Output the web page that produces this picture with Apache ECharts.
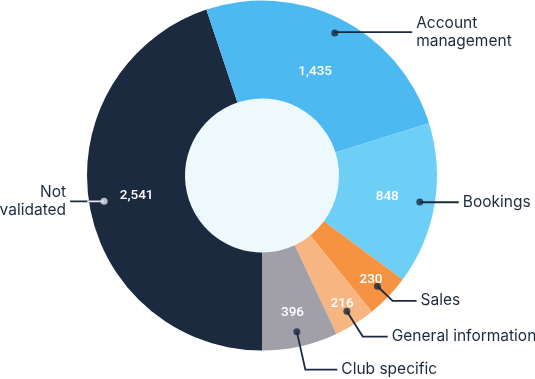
<!DOCTYPE html>
<html>
<head>
<meta charset="utf-8">
<script src="https://cdn.jsdelivr.net/npm/echarts@6/dist/echarts.min.js"></script>
<style>
html,body{margin:0;padding:0;background:#ffffff;}
#chart{width:535px;height:379px;}
</style>
</head>
<body>
<div id="chart"></div>
<script>
// ---- data ----
const categories = ['Not validated', 'Account management', 'Bookings', 'Sales', 'General information', 'Club specific'];
const labelTexts = ['Not\nvalidated', 'Account\nmanagement', 'Bookings', 'Sales', 'General information', 'Club specific'];
const values = [2541, 1435, 848, 230, 216, 396];
const colors = ['#1c2a40', '#4cb9f1', '#6dcff6', '#f59342', '#f7b582', '#a19fa8'];

// ---- style / layout constants ----
const CX = 262, CY = 175.5, R_OUT = 175, R_IN = 77;
const FONT = 'Inter, Roboto, sans-serif';
const TEXT_DARK = '#1c2a40';
// radius where each leader line starts (dot position)
const dotRadius = [160, 160, 160, 160, 160, 160];
// leader line lengths per item [radial, horizontal]
const lineLen = [[1, 33], [1, 77], [1, 38], [21, 24], [30, 25], [39, 32]];
// desired value-label radius per item
const valueRing = [127, 117, 127, 151, 151, 140];

const total = values.reduce((a, b) => a + b, 0);
const fmt = v => v.toLocaleString('en-US');
const center = [CX, CY];

function baseData(extra) {
  return values.map((v, i) => Object.assign({ name: categories[i], value: v }, extra ? extra(i) : {}));
}

const series = [];

// inner light disk
series.push({
  type: 'pie', center, radius: [0, R_IN], silent: true, startAngle: 270,
  label: { show: false }, labelLine: { show: false },
  data: [{ value: 1, itemStyle: { color: '#eef9fe' } }]
});

// main donut
series.push({
  type: 'pie', center, radius: [R_IN, R_OUT], startAngle: 270, clockwise: true,
  silent: true, avoidLabelOverlap: false,
  label: { show: false }, labelLine: { show: false },
  data: baseData(i => ({ itemStyle: { color: colors[i] } }))
});

// value label rings
[...new Set(valueRing)].forEach(rr => {
  const mid = rr - 3;
  series.push({
    type: 'pie', center, radius: [mid - 20, mid + 20], startAngle: 270, clockwise: true,
    silent: true, avoidLabelOverlap: false,
    itemStyle: { color: 'rgba(0,0,0,0)' },
    labelLine: { show: false },
    data: baseData(i => ({
      label: {
        show: valueRing[i] === rr, position: 'inside',
        formatter: fmt(values[i]), color: '#ffffff',
        fontFamily: 'Roboto, Inter, sans-serif', fontSize: 13.5, fontWeight: 500
      }
    }))
  });
});

// outside category labels with leader lines (one layer per start radius)
[...new Set(dotRadius)].forEach(rd => {
  series.push({
    type: 'pie', center, radius: [0, rd], startAngle: 270, clockwise: true,
    silent: true, avoidLabelOverlap: false, z: 5,
    itemStyle: { color: 'rgba(0,0,0,0)' },
    label: {
      position: 'outside', alignTo: 'none', bleedMargin: 0,
      distanceToLabelLine: 4, color: TEXT_DARK, fontFamily: FONT, fontSize: 15.5, lineHeight: 18,
      width: 160
    },
    labelLine: { lineStyle: { color: TEXT_DARK, width: 1.8 }, minTurnAngle: 0, maxSurfaceAngle: 180 },
    data: baseData(i => ({
      label: {
        show: dotRadius[i] === rd,
        formatter: labelTexts[i],
        padding: labelTexts[i].indexOf('\n') >= 0 ? [18, 0, 0, 0] : 0
      },
      labelLine: { show: dotRadius[i] === rd, length: lineLen[i][0], length2: lineLen[i][1] }
    }))
  });
});

// light overlay of the leader line inside the dark slice
series.push({
  type: 'pie', center, radius: [0, dotRadius[0]], startAngle: 270, clockwise: true,
  silent: true, avoidLabelOverlap: false, z: 6,
  itemStyle: { color: 'rgba(0,0,0,0)' },
  data: baseData(i => ({
    label: { show: i === 0, position: 'outside', alignTo: 'none', formatter: ' ', fontSize: 1 },
    labelLine: { show: i === 0, length: 1, length2: 16, lineStyle: { color: '#dfe4ec', width: 1.8 }, minTurnAngle: 0, maxSurfaceAngle: 180 }
  }))
});

// dots at leader line start: polar scatter at mid angle of each slice
let cum = 0;
const dotData = values.map((v, i) => {
  const mid = cum + v / 2;
  cum += v;
  return { value: [dotRadius[i], mid], itemStyle: { color: i === 0 ? '#dfe4ec' : TEXT_DARK } };
});
series.push({
  type: 'scatter', coordinateSystem: 'polar', symbol: 'circle', symbolSize: 7,
  silent: true, z: 10, data: dotData
});

const chart = echarts.init(document.getElementById('chart'), null, { renderer: 'canvas' });
chart.setOption({
  animation: false,
  backgroundColor: '#ffffff',
  polar: { center, radius: R_OUT },
  angleAxis: { type: 'value', min: 0, max: total, startAngle: 270, clockwise: true, show: false },
  radiusAxis: { type: 'value', min: 0, max: R_OUT, show: false },
  series
});
</script>
</body>
</html>
